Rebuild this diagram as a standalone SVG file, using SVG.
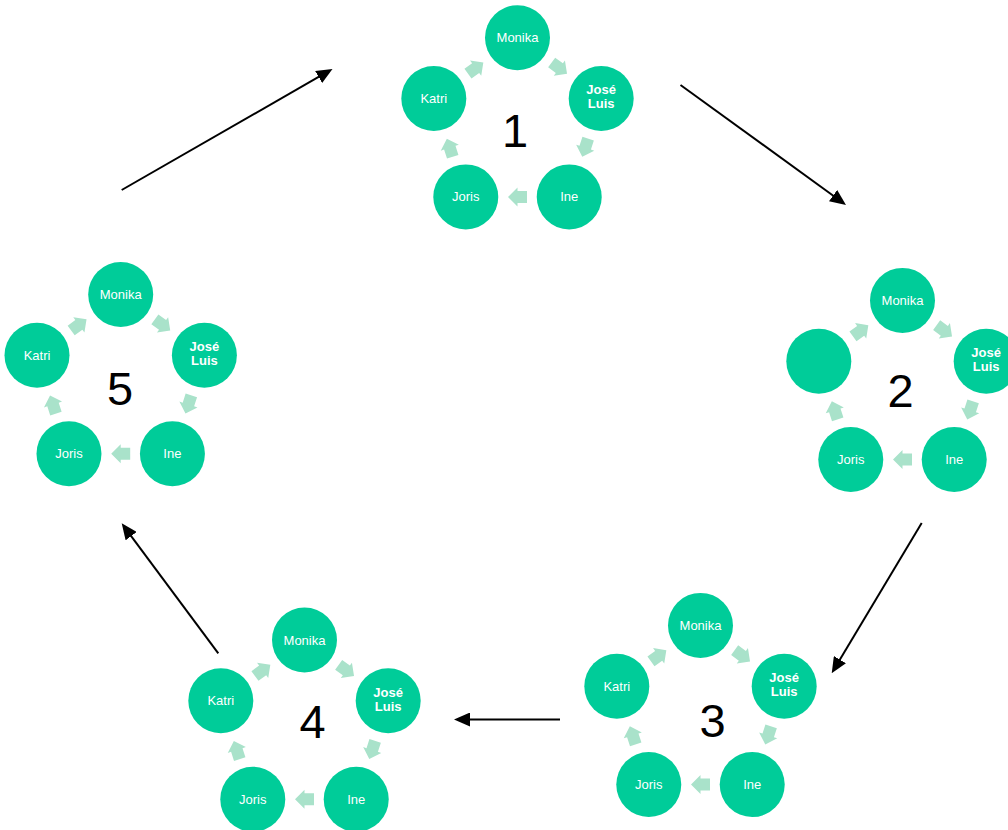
<svg xmlns="http://www.w3.org/2000/svg" xmlns:xlink="http://www.w3.org/1999/xlink" width="1008" height="830" viewBox="0 0 1008 830">
<style>
.node{fill:#00CC99}
.lbl{fill:#ffffff;font-family:"Liberation Sans",Arial,sans-serif;font-size:13px;text-anchor:middle}
.b{font-weight:bold}
.num{fill:#000000;font-family:"Liberation Sans",Arial,sans-serif;font-size:47px;text-anchor:middle}
.sa{fill:#A9E2CA}
.conn{stroke:#000000;stroke-width:2;fill:none;marker-end:url(#ah)}
</style>
<defs>
<marker id="ah" markerUnits="userSpaceOnUse" markerWidth="16" markerHeight="14" refX="2" refY="7" orient="auto">
<path d="M0,0 L16,7 L0,14 Z" fill="#000000"/>
</marker>
<path id="sarrow" d="M-9.5,-6 H0 V-9.5 L9.5,0 L0,9.5 V6 H-9.5 Z"/>
<g id="cyc-arrows" class="sa">
<use xlink:href="#sarrow" transform="translate(41.85,-57.6) rotate(36)"/>
<use xlink:href="#sarrow" transform="translate(67.71,22) rotate(108)"/>
<use xlink:href="#sarrow" transform="translate(0,71.19) rotate(180)"/>
<use xlink:href="#sarrow" transform="translate(-67.71,22) rotate(252)"/>
<use xlink:href="#sarrow" transform="translate(-41.85,-57.6) rotate(324)"/>
</g>
</defs>

<g id="connectors">
<line class="conn" x1="121.7" y1="190" x2="320.36" y2="75.97"/>
<line class="conn" x1="680.5" y1="85" x2="834.67" y2="196.78"/>
<line class="conn" x1="921.7" y1="523" x2="838.89" y2="661.29"/>
<line class="conn" x1="560" y1="719.5" x2="468" y2="719.5"/>
<line class="conn" x1="218.3" y1="653.3" x2="130.05" y2="534.54"/>
</g>

<!-- Cluster 1 -->
<g id="cluster1" transform="translate(517.5,125.7)">
<use xlink:href="#cyc-arrows"/>
<g id="c1-monika"><circle class="node" cx="0" cy="-88" r="32.5"/><text class="lbl" x="0" y="-83.5">Monika</text></g>
<g id="c1-joseluis"><circle class="node" cx="83.69" cy="-27.19" r="32.5"/><text class="lbl b" x="83.69" y="-31.5">José</text><text class="lbl b" x="83.69" y="-17.5">Luis</text></g>
<g id="c1-ine"><circle class="node" cx="51.72" cy="71.19" r="32.5"/><text class="lbl" x="51.72" y="75.7">Ine</text></g>
<g id="c1-joris"><circle class="node" cx="-51.72" cy="71.19" r="32.5"/><text class="lbl" x="-51.72" y="75.7">Joris</text></g>
<g id="c1-katri"><circle class="node" cx="-83.69" cy="-27.19" r="32.5"/><text class="lbl" x="-83.69" y="-22.7">Katri</text></g>
</g>
<text id="num1" class="num" x="515" y="146.7">1</text>

<!-- Cluster 2 -->
<g id="cluster2" transform="translate(902.5,388.4)">
<use xlink:href="#cyc-arrows"/>
<g id="c2-monika"><circle class="node" cx="0" cy="-88" r="32.5"/><text class="lbl" x="0" y="-83.5">Monika</text></g>
<g id="c2-joseluis"><circle class="node" cx="83.69" cy="-27.19" r="32.5"/><text class="lbl b" x="83.69" y="-31.5">José</text><text class="lbl b" x="83.69" y="-17.5">Luis</text></g>
<g id="c2-ine"><circle class="node" cx="51.72" cy="71.19" r="32.5"/><text class="lbl" x="51.72" y="75.7">Ine</text></g>
<g id="c2-joris"><circle class="node" cx="-51.72" cy="71.19" r="32.5"/><text class="lbl" x="-51.72" y="75.7">Joris</text></g>
<g id="c2-empty"><circle class="node" cx="-83.69" cy="-27.19" r="32.5"/></g>
</g>
<text id="num2" class="num" x="900.5" y="406.7">2</text>

<!-- Cluster 3 -->
<g id="cluster3" transform="translate(700.5,713.4)">
<use xlink:href="#cyc-arrows"/>
<g id="c3-monika"><circle class="node" cx="0" cy="-88" r="32.5"/><text class="lbl" x="0" y="-83.5">Monika</text></g>
<g id="c3-joseluis"><circle class="node" cx="83.69" cy="-27.19" r="32.5"/><text class="lbl b" x="83.69" y="-31.5">José</text><text class="lbl b" x="83.69" y="-17.5">Luis</text></g>
<g id="c3-ine"><circle class="node" cx="51.72" cy="71.19" r="32.5"/><text class="lbl" x="51.72" y="75.7">Ine</text></g>
<g id="c3-joris"><circle class="node" cx="-51.72" cy="71.19" r="32.5"/><text class="lbl" x="-51.72" y="75.7">Joris</text></g>
<g id="c3-katri"><circle class="node" cx="-83.69" cy="-27.19" r="32.5"/><text class="lbl" x="-83.69" y="-22.7">Katri</text></g>
</g>
<text id="num3" class="num" x="712.5" y="736.7">3</text>

<!-- Cluster 4 -->
<g id="cluster4" transform="translate(304.5,728)">
<use xlink:href="#cyc-arrows"/>
<g id="c4-monika"><circle class="node" cx="0" cy="-88" r="32.5"/><text class="lbl" x="0" y="-83.5">Monika</text></g>
<g id="c4-joseluis"><circle class="node" cx="83.69" cy="-27.19" r="32.5"/><text class="lbl b" x="83.69" y="-31.5">José</text><text class="lbl b" x="83.69" y="-17.5">Luis</text></g>
<g id="c4-ine"><circle class="node" cx="51.72" cy="71.19" r="32.5"/><text class="lbl" x="51.72" y="75.7">Ine</text></g>
<g id="c4-joris"><circle class="node" cx="-51.72" cy="71.19" r="32.5"/><text class="lbl" x="-51.72" y="75.7">Joris</text></g>
<g id="c4-katri"><circle class="node" cx="-83.69" cy="-27.19" r="32.5"/><text class="lbl" x="-83.69" y="-22.7">Katri</text></g>
</g>
<text id="num4" class="num" x="312.5" y="738">4</text>

<!-- Cluster 5 -->
<g id="cluster5" transform="translate(120.7,382.5)">
<use xlink:href="#cyc-arrows"/>
<g id="c5-monika"><circle class="node" cx="0" cy="-88" r="32.5"/><text class="lbl" x="0" y="-83.5">Monika</text></g>
<g id="c5-joseluis"><circle class="node" cx="83.69" cy="-27.19" r="32.5"/><text class="lbl b" x="83.69" y="-31.5">José</text><text class="lbl b" x="83.69" y="-17.5">Luis</text></g>
<g id="c5-ine"><circle class="node" cx="51.72" cy="71.19" r="32.5"/><text class="lbl" x="51.72" y="75.7">Ine</text></g>
<g id="c5-joris"><circle class="node" cx="-51.72" cy="71.19" r="32.5"/><text class="lbl" x="-51.72" y="75.7">Joris</text></g>
<g id="c5-katri"><circle class="node" cx="-83.69" cy="-27.19" r="32.5"/><text class="lbl" x="-83.69" y="-22.7">Katri</text></g>
</g>
<text id="num5" class="num" x="120" y="405">5</text>
</svg>
